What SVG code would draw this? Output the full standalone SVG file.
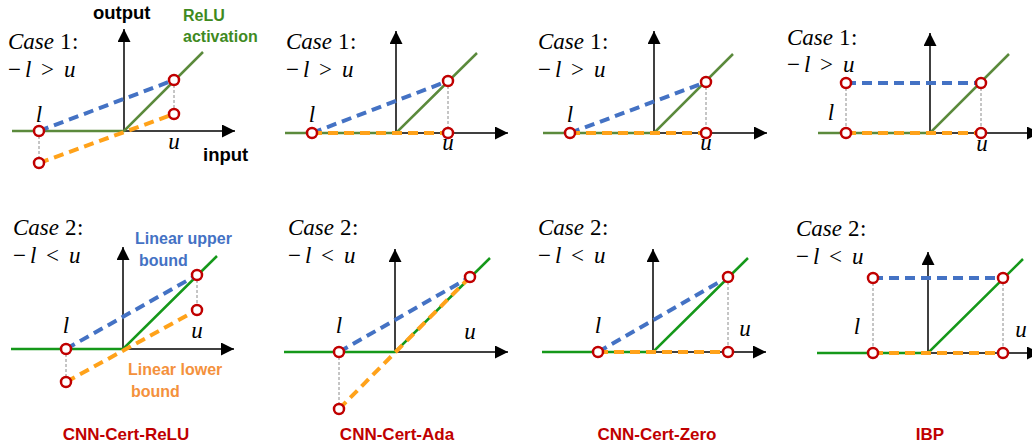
<svg xmlns="http://www.w3.org/2000/svg" width="1032" height="444" viewBox="0 0 1032 444">
<style>
.ax{stroke:#000;stroke-width:1.5;fill:none;marker-end:url(#ah)}
.g1{stroke:#5b8a3c;stroke-width:2.5;fill:none}
.g2{stroke:#15981a;stroke-width:2.5;fill:none}
.ub{stroke:#4472c4;stroke-width:4;stroke-dasharray:10 6;fill:none}
.lb{stroke:#ffa21a;stroke-width:4;stroke-dasharray:10 6;fill:none}
.gd{stroke:#8c8c8c;stroke-width:1;stroke-dasharray:3 2;fill:none}
.pt{fill:#fff;stroke:#c00000;stroke-width:2.5}
.m{font-family:"Liberation Serif","DejaVu Serif",serif;font-size:23px;fill:#000}
.i{font-style:italic}
.b{font-family:"Liberation Sans",Arial,sans-serif;font-weight:bold;font-size:16px}
.big{font-size:18.5px}
.t{font-family:"Liberation Sans",Arial,sans-serif;font-weight:bold;font-size:17px;fill:#c00000;text-anchor:middle}
</style>
<defs>
<marker id="ah" markerWidth="14" markerHeight="14" refX="13" refY="6.5" orient="auto" markerUnits="userSpaceOnUse"><path d="M0,0 L13,6.5 L0,13 z" fill="#000"/></marker>
</defs>
<rect width="1032" height="444" fill="#fff"/>

<g id="p1">
<line class="ax" x1="124" y1="131" x2="124" y2="29"/>
<line class="ax" x1="124" y1="131" x2="235" y2="131"/>
<polyline class="g1" points="12,131 124,131 203,52"/>
<line class="gd" x1="39" y1="131" x2="39" y2="163"/>
<line class="gd" x1="174" y1="80" x2="174" y2="114"/>
<line class="ub" x1="39" y1="131" x2="174" y2="80"/>
<line class="lb" x1="39" y1="163" x2="174" y2="114"/>
<circle class="pt" cx="39" cy="131" r="5"/><circle class="pt" cx="39" cy="163" r="5"/>
<circle class="pt" cx="174" cy="80" r="5"/><circle class="pt" cx="174" cy="114" r="5"/>
<text class="m" y="49"><tspan class="i" x="8">Case</tspan><tspan x="60">1</tspan><tspan x="72">:</tspan></text>
<text class="m" y="77"><tspan x="8">−</tspan><tspan class="i" x="25">l</tspan><tspan x="41">&gt;</tspan><tspan class="i" x="64">u</tspan></text>
<text class="m i" x="39" y="122" text-anchor="middle">l</text>
<text class="m i" x="174" y="149" text-anchor="middle">u</text>
<text class="b big" x="93" y="19" fill="#000">output</text>
<text class="b" x="183" y="21" fill="#3f8a1f">ReLU</text>
<text class="b" x="183" y="42" fill="#3f8a1f">activation</text>
<text class="b big" x="203" y="161" fill="#000">input</text>
</g>

<g id="p2">
<line class="ax" x1="396" y1="133" x2="396" y2="31"/>
<line class="ax" x1="396" y1="133" x2="508" y2="133"/>
<polyline class="g1" points="285,133 396,133 477,53"/>
<line class="gd" x1="448" y1="81" x2="448" y2="133"/>
<line class="ub" x1="312" y1="133" x2="448" y2="81"/>
<line class="lb" x1="312" y1="133" x2="448" y2="133"/>
<circle class="pt" cx="312" cy="133" r="5"/><circle class="pt" cx="448" cy="81" r="5"/><circle class="pt" cx="448" cy="133" r="5"/>
<text class="m" y="49"><tspan class="i" x="286">Case</tspan><tspan x="338">1</tspan><tspan x="350">:</tspan></text>
<text class="m" y="77"><tspan x="286">−</tspan><tspan class="i" x="303">l</tspan><tspan x="319">&gt;</tspan><tspan class="i" x="342">u</tspan></text>
<text class="m i" x="312" y="122" text-anchor="middle">l</text>
<text class="m i" x="448" y="150" text-anchor="middle">u</text>
</g>

<g id="p3">
<line class="ax" x1="654" y1="133" x2="654" y2="31"/>
<line class="ax" x1="654" y1="133" x2="767" y2="133"/>
<polyline class="g1" points="543,133 654,133 733,54"/>
<line class="gd" x1="706" y1="82" x2="706" y2="133"/>
<line class="ub" x1="570" y1="133" x2="706" y2="82"/>
<line class="lb" x1="570" y1="133" x2="706" y2="133"/>
<circle class="pt" cx="570" cy="133" r="5"/><circle class="pt" cx="706" cy="82" r="5"/><circle class="pt" cx="706" cy="133" r="5"/>
<text class="m" y="49"><tspan class="i" x="538">Case</tspan><tspan x="590">1</tspan><tspan x="602">:</tspan></text>
<text class="m" y="77"><tspan x="538">−</tspan><tspan class="i" x="555">l</tspan><tspan x="571">&gt;</tspan><tspan class="i" x="594">u</tspan></text>
<text class="m i" x="570" y="122" text-anchor="middle">l</text>
<text class="m i" x="706" y="150" text-anchor="middle">u</text>
</g>

<g id="p4">
<line class="ax" x1="930" y1="133" x2="930" y2="33"/>
<line class="ax" x1="930" y1="133" x2="1040" y2="133"/>
<polyline class="g1" points="818,133 930,133 1009,54"/>
<line class="gd" x1="846" y1="83" x2="846" y2="133"/>
<line class="gd" x1="981" y1="83" x2="981" y2="133"/>
<line class="ub" x1="846" y1="83" x2="981" y2="83"/>
<line class="lb" x1="846" y1="133" x2="981" y2="133"/>
<circle class="pt" cx="846" cy="83" r="5"/><circle class="pt" cx="846" cy="133" r="5"/>
<circle class="pt" cx="981" cy="83" r="5"/><circle class="pt" cx="981" cy="133" r="5"/>
<text class="m" y="45"><tspan class="i" x="787">Case</tspan><tspan x="839">1</tspan><tspan x="851">:</tspan></text>
<text class="m" y="72"><tspan x="787">−</tspan><tspan class="i" x="804">l</tspan><tspan x="820">&gt;</tspan><tspan class="i" x="843">u</tspan></text>
<text class="m i" x="831" y="120" text-anchor="middle">l</text>
<text class="m i" x="982" y="151" text-anchor="middle">u</text>
</g>

<g id="p5">
<line class="ax" x1="123" y1="349" x2="123" y2="247"/>
<line class="ax" x1="123" y1="349" x2="234" y2="349"/>
<polyline class="g2" points="11,349 123,349 217,256"/>
<line class="gd" x1="66" y1="349" x2="66" y2="382"/>
<line class="gd" x1="197" y1="275" x2="197" y2="310"/>
<line class="ub" x1="66" y1="349" x2="197" y2="275"/>
<line class="lb" x1="66" y1="382" x2="197" y2="310"/>
<circle class="pt" cx="66" cy="349" r="5"/><circle class="pt" cx="66" cy="382" r="5"/>
<circle class="pt" cx="197" cy="275" r="5"/><circle class="pt" cx="197" cy="310" r="5"/>
<text class="m" y="235"><tspan class="i" x="13">Case</tspan><tspan x="65">2</tspan><tspan x="77">:</tspan></text>
<text class="m" y="263"><tspan x="13">−</tspan><tspan class="i" x="30">l</tspan><tspan x="46">&lt;</tspan><tspan class="i" x="69">u</tspan></text>
<text class="m i" x="66" y="333" text-anchor="middle">l</text>
<text class="m i" x="197" y="338" text-anchor="middle">u</text>
<text class="b" x="135" y="244" fill="#4472c4">Linear upper</text>
<text class="b" x="139" y="266" fill="#4472c4">bound</text>
<text class="b" x="128" y="375" fill="#f4913c">Linear lower</text>
<text class="b" x="131" y="397" fill="#f4913c">bound</text>
<text class="t" x="126" y="440">CNN-Cert-ReLU</text>
</g>

<g id="p6">
<line class="ax" x1="395" y1="352" x2="395" y2="249"/>
<line class="ax" x1="395" y1="352" x2="508" y2="352"/>
<polyline class="g2" points="284,352 395,352 490,258"/>
<line class="gd" x1="339" y1="352" x2="339" y2="409"/>
<line class="ub" x1="339" y1="352" x2="470" y2="277"/>
<line class="lb" x1="339" y1="409" x2="470" y2="277"/>
<circle class="pt" cx="339" cy="352" r="5"/><circle class="pt" cx="339" cy="409" r="5"/><circle class="pt" cx="470" cy="277" r="5"/>
<text class="m" y="235"><tspan class="i" x="288">Case</tspan><tspan x="340">2</tspan><tspan x="352">:</tspan></text>
<text class="m" y="263"><tspan x="288">−</tspan><tspan class="i" x="305">l</tspan><tspan x="321">&lt;</tspan><tspan class="i" x="344">u</tspan></text>
<text class="m i" x="339" y="333" text-anchor="middle">l</text>
<text class="m i" x="470" y="339" text-anchor="middle">u</text>
<text class="t" x="397" y="440">CNN-Cert-Ada</text>
</g>

<g id="p7">
<line class="ax" x1="653" y1="352" x2="653" y2="249"/>
<line class="ax" x1="653" y1="352" x2="766" y2="352"/>
<polyline class="g2" points="542,352 653,352 748,258"/>
<line class="gd" x1="728" y1="277" x2="728" y2="352"/>
<line class="ub" x1="598" y1="352" x2="728" y2="277"/>
<line class="lb" x1="598" y1="352" x2="728" y2="352"/>
<circle class="pt" cx="598" cy="352" r="5"/><circle class="pt" cx="728" cy="277" r="5"/><circle class="pt" cx="728" cy="352" r="5"/>
<text class="m" y="235"><tspan class="i" x="538">Case</tspan><tspan x="590">2</tspan><tspan x="602">:</tspan></text>
<text class="m" y="263"><tspan x="538">−</tspan><tspan class="i" x="555">l</tspan><tspan x="571">&lt;</tspan><tspan class="i" x="594">u</tspan></text>
<text class="m i" x="598" y="333" text-anchor="middle">l</text>
<text class="m i" x="745" y="336" text-anchor="middle">u</text>
<text class="t" x="657" y="440">CNN-Cert-Zero</text>
</g>

<g id="p8">
<line class="ax" x1="928" y1="353" x2="928" y2="252"/>
<line class="ax" x1="928" y1="353" x2="1040" y2="353"/>
<polyline class="g2" points="817,353 928,353 1023,259"/>
<line class="gd" x1="873" y1="278" x2="873" y2="353"/>
<line class="gd" x1="1003" y1="278" x2="1003" y2="353"/>
<line class="ub" x1="873" y1="278" x2="1003" y2="278"/>
<line class="lb" x1="873" y1="353" x2="1003" y2="353"/>
<circle class="pt" cx="873" cy="278" r="5"/><circle class="pt" cx="873" cy="353" r="5"/>
<circle class="pt" cx="1003" cy="278" r="5"/><circle class="pt" cx="1003" cy="353" r="5"/>
<text class="m" y="236"><tspan class="i" x="796">Case</tspan><tspan x="848">2</tspan><tspan x="860">:</tspan></text>
<text class="m" y="264"><tspan x="796">−</tspan><tspan class="i" x="813">l</tspan><tspan x="829">&lt;</tspan><tspan class="i" x="852">u</tspan></text>
<text class="m i" x="857" y="334" text-anchor="middle">l</text>
<text class="m i" x="1021" y="337" text-anchor="middle">u</text>
<text class="t" x="930" y="440">IBP</text>
</g>
</svg>
